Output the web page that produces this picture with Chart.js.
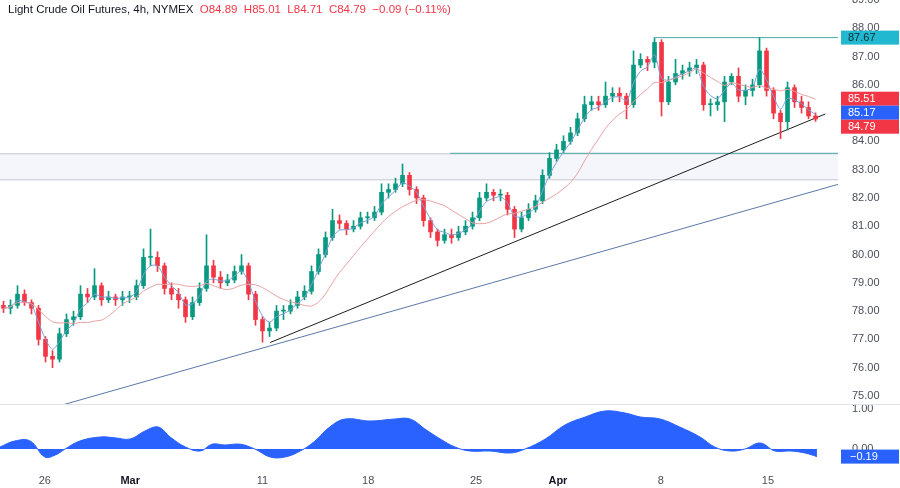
<!DOCTYPE html>
<html><head><meta charset="utf-8">
<script src="https://cdn.jsdelivr.net/npm/chart.js@4.4.1/dist/chart.umd.min.js"></script>
<style>
html,body{margin:0;padding:0;background:#fff;width:900px;height:488px;overflow:hidden;font-family:"Liberation Sans",Arial,sans-serif}
#t{position:absolute;left:8px;top:3px;font-size:11.5px;color:#131722;white-space:pre;z-index:5}
#t span{color:#f23645}
#m{position:absolute;left:0;top:0;width:900px;height:405px}
#b{position:absolute;left:0;top:404px;width:900px;height:84px;border-top:1px solid #e0e3eb;box-sizing:border-box}
canvas{display:block}
</style></head><body>
<div id="t">Light Crude Oil Futures, 4h, NYMEX  <span>O84.89  H85.01  L84.71  C84.79  −0.09 (−0.11%)</span></div>
<div id="m"><canvas id="c1" width="900" height="405"></canvas></div>
<div id="b"><canvas id="c2" width="900" height="83"></canvas></div>
<script>
const closes=[78.1,78.2,78.6,78.3,78.1,77.0,76.4,76.3,77.2,77.7,
77.8,78.6,78.5,78.9,78.4,78.5,78.4,78.5,78.5,78.9,
79.9,79.9,79.6,78.8,78.6,78.4,77.8,78.3,78.8,79.6,
79.2,79.0,79.1,79.4,79.6,78.6,77.7,77.3,77.4,78.0,
78.0,78.2,78.5,78.7,79.4,80.0,80.6,81.2,81.1,80.9,
81.0,81.3,81.3,81.5,82.2,82.3,82.5,82.8,82.3,82.0,
81.2,80.8,80.5,80.7,80.6,80.8,81.0,81.3,82.0,82.2,
82.1,82.1,81.6,80.9,81.3,81.6,81.9,82.8,83.4,83.7,
84.0,84.3,84.8,85.3,85.4,85.3,85.6,85.7,85.6,85.3,
86.7,86.9,86.8,87.5,85.4,86.1,86.4,86.5,86.6,86.7,
85.3,85.3,85.4,86.1,86.3,85.6,85.8,86.0,87.2,85.8,
85.0,84.7,85.9,85.4,85.2,84.9,84.79];
const opens=[78.2].concat(closes.slice(0,-1));
const highs=[78.35,78.4,78.9,78.75,78.4,78.2,77.1,76.6,77.4,77.9,
78.0,78.9,78.8,79.5,79.0,78.7,78.6,78.7,78.7,79.1,
80.2,80.9,80.1,79.7,79.0,78.8,78.5,78.5,79.0,80.7,
79.8,79.4,79.3,79.6,80.0,79.7,78.7,77.8,77.6,78.2,
78.2,78.4,78.7,78.9,79.6,80.2,80.8,81.6,81.4,81.2,
81.2,81.5,81.5,81.7,82.5,82.5,82.7,83.2,82.9,82.4,
82.1,81.3,80.9,80.9,80.9,81.0,81.2,81.5,82.2,82.5,
82.3,82.3,82.2,81.7,81.5,81.8,82.1,83.0,83.6,83.9,
84.2,84.5,85.0,85.6,85.6,85.6,86.1,85.9,85.9,85.7,
87.2,87.1,87.0,87.67,87.6,86.3,86.9,86.7,86.8,86.9,
86.8,85.5,85.6,86.3,86.4,86.6,86.0,86.2,87.67,87.3,
85.9,85.1,86.1,86.0,85.6,85.4,85.01];
const lows=[77.95,77.9,78.1,78.2,77.9,76.8,76.2,76.0,76.2,77.1,
77.5,77.7,78.3,78.4,78.2,78.3,78.2,78.2,78.3,78.4,
78.8,79.6,79.4,78.6,78.4,78.1,77.6,77.7,78.2,78.7,
79.0,78.8,78.9,79.0,79.3,78.4,77.5,76.9,77.1,77.3,
77.7,77.9,78.1,78.4,78.6,79.3,79.9,80.5,80.9,80.7,
80.8,80.9,81.1,81.2,81.4,82.0,82.2,82.4,82.1,81.8,
81.0,80.6,80.3,80.4,80.4,80.5,80.7,80.9,81.2,81.9,
81.9,81.9,81.4,80.6,80.8,81.2,81.5,81.8,82.7,83.3,
83.6,83.9,84.2,84.7,85.1,85.1,85.2,85.4,85.4,84.8,
85.2,86.6,86.5,86.6,84.9,85.3,86.0,86.2,86.3,86.4,
85.1,84.9,85.1,84.7,86.0,85.4,85.3,85.6,85.9,85.6,
84.8,84.1,84.4,85.2,85.0,84.8,84.71];
const oscX=[-0.5,1.6,3.8,5.9,7.4,8.8,10.9,13.8,15.9,18.1,20.2,22.1,23.8,26,28.1,29.8,31.6,33.8,35.9,38.1,40.2,42.4,44.5,46.6,48.8,52.4,55.9,58.1,60.2,62.4,64.5,66.6,69.5,72.4,74.5,77.4,80.2,83.1,85.9,88.8,91,93.8,96.6,99.5,101.6,103.8,105.9,108.1,110.2,112.4,114.5,116.2];
const oscY=[0.05,0.2,0.2,-0.2,-0.15,0.0,0.2,0.3,0.28,0.25,0.45,0.55,0.3,0.05,-0.05,0.12,0.1,0.12,0.0,-0.2,-0.2,-0.05,0.2,0.55,0.75,0.7,0.75,0.75,0.5,0.25,0.05,-0.05,-0.05,-0.1,0.0,0.25,0.6,0.8,0.95,0.9,0.8,0.75,0.55,0.3,0.05,-0.05,0.0,0.15,-0.05,-0.05,-0.1,-0.19];
const priceTicks=[75,76,77,78,79,80,81,82,83,84,85,86,87,88,89];
const dateLabels=['26','Mar','11','18','25','Apr','8','15'];
const datePos=[5.9,18.1,37.0,52.1,67.5,79.2,93.9,109.2];
const blackTrend=[{x:38.1,y:76.89},{x:117.4,y:84.97}];
const blueTrend=[{x:8.4,y:74.68},{x:119.2,y:82.48}];
const topLevel=87.67, zoneTop=83.58, zoneBot=82.66;
const priceTags=[[87.67,'#22b8cf','#0b2a33'],[85.51,'#f23645','#fff'],[85.17,'#2962ff','#fff'],[84.79,'#f23645','#fff']];

const UP='#089981', DN='#f23645';
const cols=closes.map((c,i)=>c>=opens[i]?UP:DN);
const ema=[];let k=2/(3+1);closes.forEach((c,i)=>ema.push(i?ema[i-1]+(c-ema[i-1])*k:c));
const sma=closes.map((c,i)=>{const s=closes.slice(Math.max(0,i-9),i+1);return s.reduce((a,b)=>a+b,0)/s.length;});

const zonePlugin={id:'zone',beforeDatasetsDraw(ch){const {ctx,chartArea:a,scales:{y}}=ch;const t=y.getPixelForValue(zoneTop),b=y.getPixelForValue(zoneBot);
ctx.save();ctx.fillStyle='#f4f6fc';ctx.fillRect(a.left,t,a.right-a.left,b-t);ctx.strokeStyle='#c3c7d0';ctx.lineWidth=1;
ctx.beginPath();ctx.moveTo(a.left,t+0.5);ctx.lineTo(a.right,t+0.5);ctx.moveTo(a.left,b+0.5);ctx.lineTo(a.right,b+0.5);ctx.stroke();ctx.restore();},
afterDraw(ch){const {ctx,scales:{y}}=ch;ctx.save();ctx.font='11px "Liberation Sans",Arial';ctx.textBaseline='middle';
let prev=-100;
priceTags.forEach(([v,bg,fg])=>{let p=y.getPixelForValue(v);if(p<prev+14)p=prev+14;prev=p;ctx.fillStyle=bg;ctx.fillRect(841,p-7,58,14);ctx.fillStyle=fg;ctx.fillText(v.toFixed(2),848,p+0.5);});ctx.restore();}};

const noPad=s=>{s.width=62;s.paddingTop=0;s.paddingBottom=0;};
new Chart(document.getElementById('c1'),{
 data:{datasets:[
  {type:'line',data:blueTrend,borderColor:'#5a78a8',borderWidth:1,pointRadius:0,order:5},
  {type:'line',data:blackTrend,borderColor:'#1e1e1e',borderWidth:1,pointRadius:0,order:5},
  {type:'line',data:[{x:63.8,y:zoneTop},{x:119.2,y:zoneTop}],borderColor:'#4aa8a8',borderWidth:1,pointRadius:0,order:5},
  {type:'line',data:[{x:93.1,y:topLevel},{x:119.2,y:topLevel}],borderColor:'#4aa8a8',borderWidth:1,pointRadius:0,order:5},
  {type:'line',data:sma.map((v,i)=>({x:i,y:v})),borderColor:'#e8a1a1',borderWidth:1,pointRadius:0,tension:0.3,order:1},
  {type:'line',data:ema.map((v,i)=>({x:i,y:v})),borderColor:'#7f9fd8',borderWidth:1,pointRadius:0,tension:0.3,order:1},
  {type:'bar',data:closes.map((c,i)=>({x:i,y:[lows[i],highs[i]]})),backgroundColor:cols,barThickness:1,grouped:false,order:3},
  {type:'bar',data:closes.map((c,i)=>({x:i,y:[opens[i],c]})),backgroundColor:cols,barThickness:4,minBarLength:1,grouped:false,order:2}
 ]},
 plugins:[zonePlugin],
 options:{responsive:false,animation:false,maintainAspectRatio:false,layout:{padding:0},
  plugins:{legend:{display:false},tooltip:{enabled:false}},
  scales:{
   x:{type:'linear',min:-0.5,max:119.21,offset:false,display:false},
   y:{position:'right',min:74.68,max:89.0,grid:{display:false},border:{display:false},
      afterFit:noPad,
      afterBuildTicks(s){s.ticks=priceTicks.map(v=>({value:v}));},
      ticks:{autoSkip:false,color:'#4a4e59',font:{size:11,family:'Liberation Sans'},padding:6,callback:v=>v.toFixed(2)}}
  }}
});

const osPlugin={id:'os',afterDraw(ch){const {ctx,scales:{y}}=ch;const p=y.getPixelForValue(-0.19);ctx.save();ctx.fillStyle='#2962ff';ctx.fillRect(841,p-7,58,14);
ctx.fillStyle='#fff';ctx.font='11px "Liberation Sans",Arial';ctx.textBaseline='middle';ctx.fillText('−0.19',850,p+0.5);ctx.restore();}};
new Chart(document.getElementById('c2'),{
 type:'line',
 data:{datasets:[{data:oscX.map((x,i)=>({x:x,y:oscY[i]})),borderColor:'#2962ff',backgroundColor:'#2962ff',fill:'origin',borderWidth:1,pointRadius:0,tension:0.4}]},
 plugins:[osPlugin],
 options:{responsive:false,animation:false,maintainAspectRatio:false,layout:{padding:0},
  plugins:{legend:{display:false},tooltip:{enabled:false}},
  scales:{
   x:{type:'linear',min:-0.5,max:119.21,offset:false,grid:{display:false},border:{display:false},
      afterFit(s){s.height=20;s.paddingLeft=0;s.paddingRight=0;},
      afterBuildTicks(s){s.ticks=datePos.map(v=>({value:v}));},
      ticks:{color:c=>(c.index===1||c.index===5)?'#131722':'#4a4e59',
        font:c=>({size:11,family:'Liberation Sans',weight:(c.index===1||c.index===5)?'bold':'normal'}),
        maxRotation:0,autoSkip:false,padding:-2,callback:(v,i)=>dateLabels[i]}},
   y:{position:'right',min:-0.475,max:1.1,grid:{display:false},border:{display:false},
      afterFit:noPad,
      afterBuildTicks(s){s.ticks=[{value:1},{value:0}];},
      ticks:{autoSkip:false,color:'#4a4e59',font:{size:11,family:'Liberation Sans'},padding:6,callback:v=>v.toFixed(2)}}
  }}
});
</script>
</body></html>
